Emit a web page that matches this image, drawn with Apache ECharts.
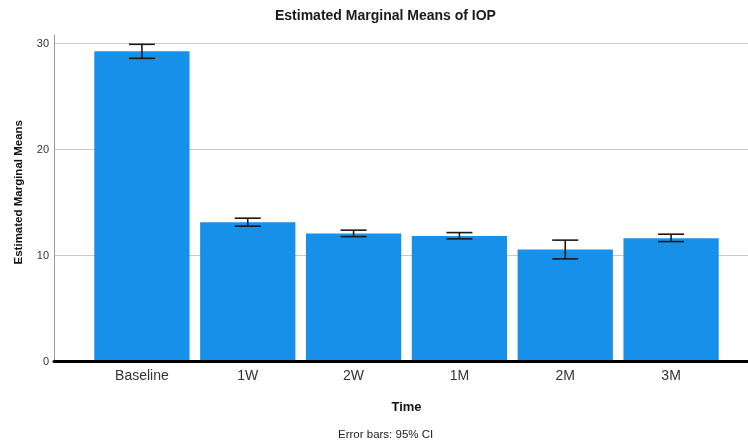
<!DOCTYPE html>
<html><head><meta charset="utf-8">
<script src="https://cdn.jsdelivr.net/npm/echarts@6/dist/echarts.min.js"></script>
<style>html,body{margin:0;padding:0;background:#fff}#c{width:748px;height:445px}</style>
</head><body><div id="c"></div>
<script>
const categories = ['Baseline', '1W', '2W', '1M', '2M', '3M'];
const means  = [29.26, 13.14, 12.07, 11.85, 10.56, 11.63];
const ciLow  = [28.60, 12.77, 11.78, 11.57, 9.68, 11.31];
const ciHigh = [29.92, 13.52, 12.39, 12.16, 11.45, 12.01];
const yMin = 0, yMax = 30.8, yStep = 10;

const FONT = 'Liberation Sans, Arial, sans-serif';
const chart = echarts.init(document.getElementById('c'), null, {renderer: 'canvas'});
const errData = categories.map((c, i) => [i, ciLow[i], ciHigh[i]]);

chart.setOption({
  animation: false,
  backgroundColor: '#fff',
  textStyle: {fontFamily: FONT},
  title: [
    {text: 'Estimated Marginal Means of IOP', left: 270, top: 4,
     textStyle: {fontFamily: FONT, fontSize: 14, fontWeight: 'bold', color: '#1a1a1a'}},
    {text: 'Error bars: 95% CI', left: 333, top: 424,
     textStyle: {fontFamily: FONT, fontSize: 11.5, fontWeight: 'normal', color: '#222'}}
  ],
  grid: [
    {left: 89, right: 24, top: 35, bottom: 83.5},
    {left: 54, right: 0, top: 35, bottom: 83.5}
  ],
  xAxis: [
    {type: 'category', gridIndex: 0, data: categories,
     axisLine: {show: false}, axisTick: {show: false},
     axisLabel: {fontFamily: FONT, fontSize: 14, color: '#333', margin: 8},
     name: 'Time', nameLocation: 'middle', nameGap: 39,
     nameTextStyle: {fontFamily: FONT, fontSize: 13, fontWeight: 'bold', color: '#111'}},
    {type: 'value', gridIndex: 1, min: 0, max: 1, z: 5,
     axisLine: {show: true, lineStyle: {color: '#000', width: 3}},
     axisTick: {show: false}, axisLabel: {show: false}, splitLine: {show: false}}
  ],
  yAxis: [
    {type: 'value', gridIndex: 0, min: yMin, max: yMax, interval: yStep, show: false},
    {type: 'value', gridIndex: 1, min: yMin, max: yMax, interval: yStep,
     axisLine: {show: true, lineStyle: {color: '#999', width: 1}},
     axisTick: {show: false},
     axisLabel: {fontFamily: FONT, fontSize: 11, color: '#333', margin: 5, showMaxLabel: false},
     splitLine: {show: true, showMaxLine: false, lineStyle: {color: '#c8c8c8', width: 1}},
     name: 'Estimated Marginal Means', nameLocation: 'middle', nameRotate: 90, nameGap: 29,
     nameTextStyle: {fontFamily: FONT, fontSize: 11.5, fontWeight: 'bold', color: '#111',
                     padding: [0, 0, 0, 12]}}
  ],
  series: [
    {type: 'bar', xAxisIndex: 0, yAxisIndex: 0, data: means, barWidth: '90%',
     itemStyle: {color: '#1690E8'}, z: 2},
    {type: 'custom', xAxisIndex: 0, yAxisIndex: 0, data: errData, z: 4,
     renderItem: function (params, api) {
       const x = api.value(0);
       const lo = api.coord([x, api.value(1)]);
       const hi = api.coord([x, api.value(2)]);
       const hw = 13;
       const st = {stroke: '#1a1a1a', lineWidth: 1.6};
       return {type: 'group', children: [
         {type: 'line', shape: {x1: hi[0] - hw, y1: hi[1], x2: hi[0] + hw, y2: hi[1]}, style: st},
         {type: 'line', shape: {x1: hi[0], y1: hi[1], x2: lo[0], y2: lo[1]}, style: st},
         {type: 'line', shape: {x1: lo[0] - hw, y1: lo[1], x2: lo[0] + hw, y2: lo[1]}, style: st}
       ]};
     }}
  ]
});
</script></body></html>
